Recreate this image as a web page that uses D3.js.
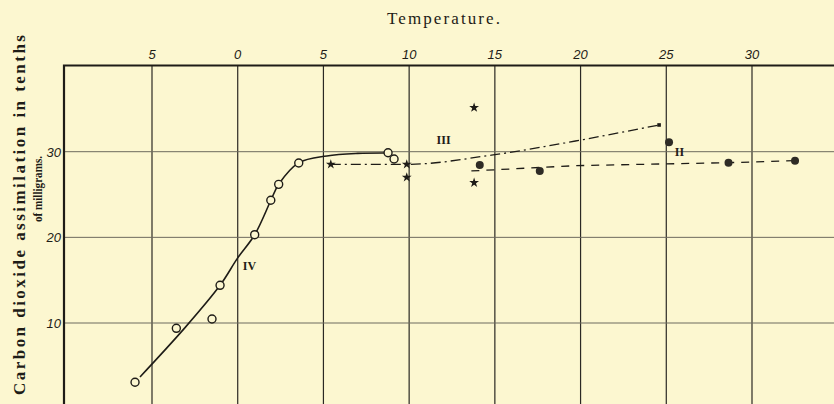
<!DOCTYPE html>
<html>
<head>
<meta charset="utf-8">
<script src="https://cdn.jsdelivr.net/npm/d3@7"></script>
<style>
  html, body { margin: 0; padding: 0; background: #fcf7d0; }
  svg { display: block; }
</style>
</head>
<body>
<div id="chart"></div>
<script>
// Temperature ticks along the top (printed without minus signs)
const tempTicks = [-5, 0, 5, 10, 15, 20, 25, 30];
const tempLabels = ['5', '0', '5', '10', '15', '20', '25', '30'];
const yTicks = [10, 20, 30];
const yLabels = ['10', '20', '30'];

// Curve IV - open circles and the hand-drawn curve through them
const circlesIV = [[-5.99, 3.08], [-3.58, 9.38], [-1.50, 10.47], [-1.03, 14.40], [0.99, 20.31],
                   [1.93, 24.33], [2.39, 26.19], [3.56, 28.68], [8.77, 29.88], [9.12, 29.15]];
const curveIV = [[-5.7, 3.7], [-3.1, 9.4], [-1.03, 14.4], [0, 17.6], [0.99, 20.3], [1.93, 24.3],
                 [2.39, 26.2], [3.56, 28.7], [5.2, 29.5], [7.0, 29.8], [8.6, 29.85]];

// Curve III - stars, dash-dot line
const starsIII = [[5.43, 28.52], [9.86, 28.52], [9.86, 27.0], [13.79, 35.14], [13.79, 26.38]];
const lineIII = [[5.43, 28.52], [9.86, 28.52], [14.8, 29.6], [19.7, 31.25], [24.58, 33.12]];

// Curve II - filled dots, dashed line
const dotsII = [[14.12, 28.45], [17.62, 27.75], [25.16, 31.1], [28.63, 28.72], [32.51, 28.95]];
const lineII = [[13.63, 27.75], [19.7, 28.37], [28.63, 28.72], [32.51, 28.95]];

// Curve labels
const curveLabels = [
    { text: 'IV', x: 0.3, y: 16.2 },
    { text: 'III', x: 11.6, y: 30.9 },
    { text: 'II', x: 25.5, y: 29.5 }
];

const width = 834, height = 404;
const frameLeft = 64, frameTop = 65.5;
const ink = '#1e1c17';
const paper = '#fcf7d0';
const serif = "'Liberation Serif', 'Times New Roman', serif";

const svg = d3.select('#chart').append('svg')
    .attr('width', width)
    .attr('height', height);

svg.append('rect')
    .attr('width', width).attr('height', height)
    .attr('fill', paper);

const x = d3.scaleLinear().domain([-5, 30]).range([152, 752]);
const y = d3.scaleLinear().domain([10, 30]).range([323, 151.7]);

// grid - vertical lines darker than the horizontal ones
svg.append('g').selectAll('line')
    .data(tempTicks)
    .join('line')
    .attr('x1', d => x(d)).attr('x2', d => x(d))
    .attr('y1', frameTop).attr('y2', height)
    .attr('stroke', '#2b2924')
    .attr('stroke-width', 1.2);

svg.append('g').selectAll('line')
    .data(yTicks)
    .join('line')
    .attr('x1', frameLeft).attr('x2', width)
    .attr('y1', d => y(d)).attr('y2', d => y(d))
    .attr('stroke', '#6d6a5e')
    .attr('stroke-width', 1);

// frame (top + left)
svg.append('path')
    .attr('d', `M${frameLeft},${height} L${frameLeft},${frameTop} L${width},${frameTop}`)
    .attr('fill', 'none')
    .attr('stroke', ink)
    .attr('stroke-width', 2.2);

// tick labels
svg.append('g').selectAll('text')
    .data(tempTicks)
    .join('text')
    .attr('x', d => x(d))
    .attr('y', 59)
    .attr('text-anchor', 'middle')
    .attr('font-family', "'Liberation Sans', Arial, sans-serif")
    .attr('font-style', 'italic')
    .attr('font-size', 13)
    .attr('fill', ink)
    .text((d, i) => tempLabels[i]);

svg.append('g').selectAll('text')
    .data(yTicks)
    .join('text')
    .attr('x', 61)
    .attr('y', d => y(d) + 5)
    .attr('text-anchor', 'end')
    .attr('font-family', "'Liberation Sans', Arial, sans-serif")
    .attr('font-style', 'italic')
    .attr('font-size', 13)
    .attr('fill', ink)
    .text((d, i) => yLabels[i]);

// titles
svg.append('text')
    .attr('x', 387).attr('y', 24)
    .attr('font-family', serif)
    .attr('font-size', 17)
    .attr('textLength', 113)
    .attr('lengthAdjust', 'spacing')
    .attr('fill', ink)
    .text('Temperature.');

svg.append('text')
    .attr('transform', 'translate(25,395) rotate(-90)')
    .attr('font-family', serif)
    .attr('font-weight', 'bold')
    .attr('font-size', 17)
    .attr('textLength', 360)
    .attr('lengthAdjust', 'spacing')
    .attr('fill', ink)
    .text('Carbon dioxide assimilation in tenths');

svg.append('text')
    .attr('transform', 'translate(42,222) rotate(-90)')
    .attr('font-family', serif)
    .attr('font-weight', 'bold')
    .attr('font-size', 13.5)
    .attr('textLength', 66)
    .attr('lengthAdjust', 'spacingAndGlyphs')
    .attr('fill', ink)
    .text('of milligrams.');

// lines
const line = d3.line().x(d => x(d[0])).y(d => y(d[1]));

svg.append('path')
    .datum(curveIV)
    .attr('d', line.curve(d3.curveCatmullRom.alpha(0.5)))
    .attr('fill', 'none')
    .attr('stroke', ink)
    .attr('stroke-width', 1.6);

svg.append('path')
    .datum(lineIII)
    .attr('d', line.curve(d3.curveMonotoneX))
    .attr('fill', 'none')
    .attr('stroke', ink)
    .attr('stroke-width', 1.3)
    .attr('stroke-dasharray', '10,4,2,4');

svg.append('path')
    .datum(lineII)
    .attr('d', line.curve(d3.curveLinear))
    .attr('fill', 'none')
    .attr('stroke', ink)
    .attr('stroke-width', 1.3)
    .attr('stroke-dasharray', '8,7');

// markers
svg.append('g').selectAll('circle')
    .data(circlesIV)
    .join('circle')
    .attr('cx', d => x(d[0]))
    .attr('cy', d => y(d[1]))
    .attr('r', 4)
    .attr('fill', paper)
    .attr('stroke', ink)
    .attr('stroke-width', 1.4);

svg.append('g').selectAll('circle')
    .data(dotsII)
    .join('circle')
    .attr('cx', d => x(d[0]))
    .attr('cy', d => y(d[1]))
    .attr('r', 4)
    .attr('fill', '#2e2b25');

const star = d3.symbol().type(d3.symbolStar).size(30);
svg.append('g').selectAll('path')
    .data(starsIII)
    .join('path')
    .attr('transform', d => `translate(${x(d[0])},${y(d[1])})`)
    .attr('d', star)
    .attr('fill', ink);

// small end mark of curve III
const lastIII = lineIII[lineIII.length - 1];
svg.append('rect')
    .attr('x', x(lastIII[0]) - 1.8).attr('y', y(lastIII[1]) - 1.8)
    .attr('width', 3.6).attr('height', 3.6)
    .attr('fill', ink);

// curve labels (roman numerals)
svg.append('g').selectAll('text')
    .data(curveLabels)
    .join('text')
    .attr('x', d => x(d.x))
    .attr('y', d => y(d.y))
    .attr('font-family', serif)
    .attr('font-weight', 'bold')
    .attr('font-size', 12)
    .attr('fill', ink)
    .text(d => d.text);
</script>
</body>
</html>
